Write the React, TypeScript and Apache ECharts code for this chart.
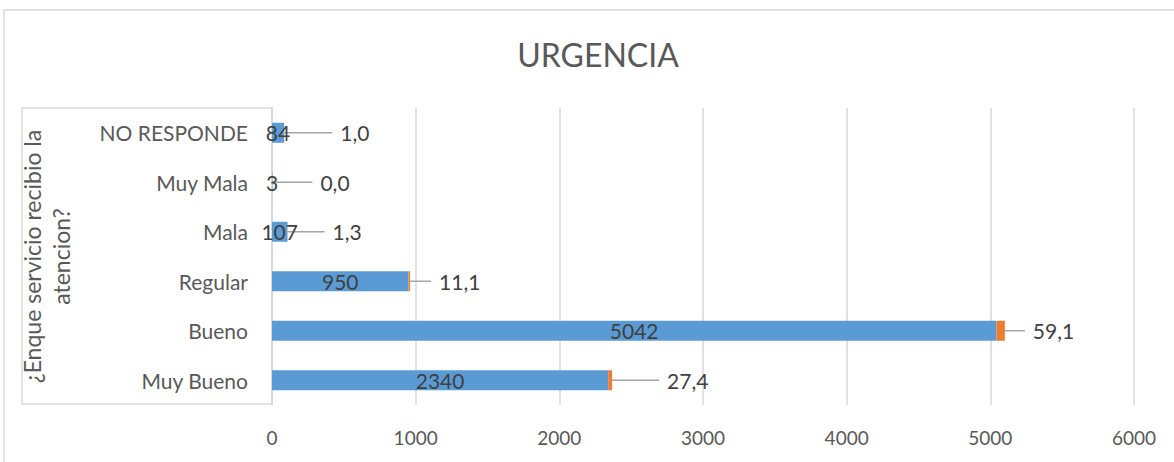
import React, { useEffect, useRef } from "react";
import * as echarts from "echarts";

const categories = ["Muy Bueno", "Bueno", "Regular", "Mala", "Muy Mala", "NO RESPONDE"];
const counts = [2340, 5042, 950, 107, 3, 84];
const percents = [27.4, 59.1, 11.1, 1.3, 0.0, 1.0];
const xTicks = [0, 1000, 2000, 3000, 4000, 5000, 6000];
const titleText = "URGENCIA";
const yAxisName = "¿Enque servicio recibio la\natencion?";

// label leader offsets (layout, px)
const pctLabelDx = [42, 15, 16, 32, 35, 43];

const FONT = "Lato, 'Noto Sans', sans-serif";

export default function App() {
  const ref = useRef<HTMLDivElement>(null);
  useEffect(() => {
    if (!ref.current) return;
    const chart = echarts.init(ref.current, undefined, { renderer: "svg" });
    chart.setOption({
      animation: false,
      textStyle: { fontFamily: FONT },
      title: {
        text: titleText,
        left: 593,
        textAlign: "center",
        top: 33,
        textStyle: { fontSize: 32, fontWeight: "normal", color: "#595959", fontFamily: FONT },
      },
      graphic: [
        {
          type: "rect",
          shape: { x: 4, y: 10, width: 1200, height: 500 },
          style: { fill: "none", stroke: "#d9d9d9", lineWidth: 1.5 },
          z: -10,
        },
        {
          type: "rect",
          shape: { x: 22, y: 108, width: 250, height: 296 },
          style: { fill: "none", stroke: "#d9d9d9", lineWidth: 1.5 },
          z: -10,
        },
      ],
      grid: { left: 272, right: 40, top: 108, bottom: 57, containLabel: false },
      xAxis: {
        type: "value",
        min: xTicks[0],
        max: xTicks[xTicks.length - 1],
        interval: 1000,
        axisLine: { show: false },
        axisTick: { show: false },
        splitLine: { show: true, lineStyle: { color: "#d9d9d9", width: 1.5 } },
        axisLabel: {
          fontSize: 19,
          color: "#595959",
          margin: 23,
          fontFamily: FONT,
          formatter: (v: number) => String(v),
        },
      },
      yAxis: {
        type: "category",
        data: categories,
        axisLine: { show: true, lineStyle: { color: "#d9d9d9", width: 1.5 } },
        axisTick: { show: false },
        axisLabel: { fontSize: 21, color: "#595959", margin: 24, fontFamily: FONT },
        name: yAxisName,
        nameLocation: "middle",
        nameRotate: 90,
        nameGap: 197,
        nameTextStyle: { fontSize: 23, color: "#595959", lineHeight: 29, fontFamily: FONT, align: "center" },
      },
      series: [
        {
          type: "bar",
          stack: "total",
          data: counts,
          barWidth: 20,
          itemStyle: { color: "#5B9BD5" },
          label: {
            show: true,
            position: "inside",
            fontSize: 21,
            color: "#404040",
            fontFamily: FONT,
          },
        },
        {
          type: "bar",
          stack: "total",
          data: percents,
          barWidth: 20,
          itemStyle: { color: "#ED7D31" },
          label: {
            show: true,
            position: "right",
            distance: 5,
            padding: [0, 0, 0, 8],
            backgroundColor: "rgba(255,255,255,0)",
            fontSize: 21,
            color: "#404040",
            fontFamily: FONT,
            formatter: (p: any) => Number(p.value).toFixed(1).replace(".", ","),
          },
          labelLayout: (p: any) => ({ dx: pctLabelDx[p.dataIndex] }),
          labelLine: { show: true, lineStyle: { color: "#a6a6a6", width: 1.5 } },
        },
      ],
    });
    return () => chart.dispose();
  }, []);
  return (
    <div
      ref={ref}
      style={{ position: "fixed", left: 0, top: 0, width: 1174, height: 462, background: "#fff" }}
    />
  );
}
